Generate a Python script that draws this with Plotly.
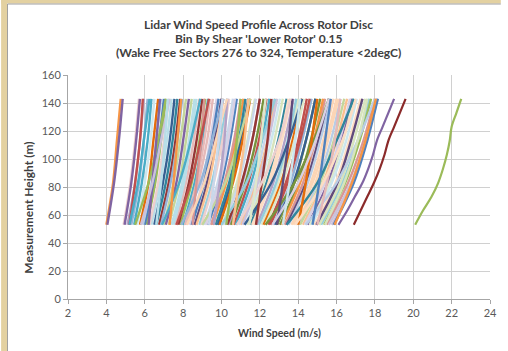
import plotly.graph_objects as go

# Lidar measurement heights (m) for the bulk of the binned profiles
heights = [53, 83, 113, 143]

# Wind speed (m/s) of each profile at each of the heights above
speed_53 = [9.3, 12.45, 6.1, 14.5, 8.0, 4.0, 5.3, 13.3, 7.25, 10.4,
            15.2, 11.0, 9.8, 6.75, 12.9, 8.6, 11.5, 5.75, 14.0, 7.6,
            10.05, 15.75, 6.35, 13.65, 9.1, 4.9, 12.1, 8.35, 11.25, 14.85,
            6.0, 10.65, 7.85, 4.05, 5.45, 9.55, 12.7, 15.5, 7.0, 11.85,
            8.85, 14.25, 6.5, 10.3, 13.05, 13.4, 9.7, 12.2, 5.9, 8.2,
            15.1, 11.1, 7.4, 13.9, 10.15, 6.25, 14.6, 9.2, 5.6, 11.6,
            8.45, 12.55, 15.35, 7.1, 10.75, 13.15, 6.85, 9.45, 14.1, 5.1,
            11.95, 8.7, 12.8, 7.75, 10.5, 14.95, 6.6, 9.9, 13.5, 8.1,
            11.35, 15.6, 7.5, 13.75, 10.9, 8.95, 12.3, 14.35, 14.7, 11.7, 15.85,
            5.2, 5.5, 6.2, 6.9, 7.3, 7.9, 8.5, 9.0, 9.6, 10.0,
            10.6, 11.2, 11.8, 12.3, 12.9, 13.4, 14.0, 14.4, 15.0, 15.4,
            5.8, 6.6, 8.2, 9.35, 10.8, 11.45, 12.65, 13.2, 13.85, 14.75,
            7.65, 10.25, 4.95, 5.2, 15.9]
speed_83 = [10.0, 13.35, 6.55, 15.55, 8.6, 4.35, 5.7, 14.25, 7.8, 11.1,
            16.3, 11.8, 10.5, 7.25, 13.8, 9.25, 12.35, 6.2, 15.0, 8.15,
            10.8, 16.85, 6.8, 14.65, 9.8, 5.25, 12.95, 9.0, 12.05, 15.95,
            6.45, 11.4, 8.45, 4.4, 5.85, 10.25, 13.6, 16.6, 7.5, 12.7,
            9.5, 15.3, 6.95, 11.05, 14.0, 14.4, 10.4, 13.1, 6.35, 8.8,
            16.2, 11.9, 7.95, 14.9, 10.9, 6.7, 15.65, 9.9, 6.0, 12.45,
            9.1, 13.45, 16.45, 7.65, 11.55, 14.1, 7.35, 10.15, 15.15, 5.5,
            12.85, 9.35, 13.75, 8.3, 11.25, 16.05, 7.1, 10.6, 14.5, 8.7,
            12.2, 16.75, 8.05, 14.75, 11.7, 9.6, 13.2, 15.4, 15.75, 12.55, 16.9,
            5.5, 6.2, 6.4, 7.8, 7.5, 8.9, 8.7, 10.2, 9.9, 11.3,
            10.9, 12.6, 12.1, 13.8, 13.2, 15.0, 14.4, 16.0, 15.5, 16.4,
            6.4, 6.85, 9.1, 9.6, 12.1, 11.8, 14.0, 13.55, 15.3, 15.1,
            8.4, 10.55, 5.3, 5.65, 16.8]
speed_113 = [10.45, 14.0, 6.85, 16.25, 9.0, 4.55, 5.95, 14.9, 8.15, 11.6,
             17.1, 12.4, 11.0, 7.6, 14.4, 9.65, 12.95, 6.45, 15.7, 8.55,
             11.35, 17.55, 7.15, 15.3, 10.25, 5.5, 13.55, 9.4, 12.6, 16.65,
             6.75, 11.95, 8.85, 4.65, 6.15, 10.75, 14.2, 17.4, 7.85, 13.3,
             9.95, 16.0, 7.3, 11.6, 14.65, 15.05, 10.9, 13.7, 6.6, 9.25,
             16.9, 12.45, 8.3, 15.55, 11.4, 7.0, 16.35, 10.35, 6.3, 13.05,
             9.5, 14.1, 17.2, 8.0, 12.1, 14.8, 7.7, 10.65, 15.85, 5.75,
             13.45, 9.75, 14.4, 8.7, 11.8, 16.75, 7.45, 11.1, 15.15, 9.1,
             12.75, 17.5, 8.4, 15.45, 12.25, 10.05, 13.8, 16.15, 16.5, 13.15, 17.6,
             5.75, 6.7, 6.6, 8.4, 7.7, 9.5, 8.95, 10.9, 10.15, 12.1,
             11.2, 13.5, 12.4, 14.8, 13.5, 16.0, 14.7, 17.1, 15.9, 17.1,
             6.85, 7.05, 9.7, 9.85, 13.0, 12.05, 14.9, 13.85, 16.3, 15.4,
             8.9, 10.8, 5.55, 5.95, 17.5]
speed_143 = [10.8, 14.45, 7.1, 16.8, 9.3, 4.75, 6.15, 15.4, 8.45, 12.0,
             17.7, 12.8, 11.4, 7.85, 14.9, 10.0, 13.4, 6.7, 16.2, 8.85,
             11.75, 18.15, 7.4, 15.85, 10.6, 5.7, 14.0, 9.75, 13.05, 17.25,
             7.0, 12.35, 9.15, 4.85, 6.35, 11.15, 14.7, 18.0, 8.15, 13.75,
             10.3, 16.55, 7.55, 12.0, 15.15, 15.6, 11.25, 14.2, 6.85, 9.55,
             17.5, 12.9, 8.6, 16.1, 11.8, 7.25, 16.9, 10.7, 6.5, 13.5,
             9.85, 14.6, 17.8, 8.3, 12.5, 15.3, 7.95, 11.0, 16.4, 5.95,
             13.9, 10.1, 14.9, 9.0, 12.2, 17.35, 7.7, 11.5, 15.7, 9.4,
             13.2, 18.1, 8.7, 16.0, 12.7, 10.4, 14.3, 16.7, 17.05, 13.6, 18.15,
             5.9, 7.1, 6.8, 8.9, 7.9, 10.1, 9.1, 11.5, 10.3, 12.8,
             11.4, 14.2, 12.6, 15.6, 13.7, 16.9, 15.0, 18.0, 16.2, 17.6,
             7.3, 7.2, 10.3, 10.05, 13.6, 12.3, 15.6, 14.1, 17.0, 15.7,
             9.35, 11.0, 5.75, 6.25, 18.05]

# The three highest-speed profiles, sampled at every lidar level
heights_full = [53, 63, 73, 83, 93, 103, 113, 123, 133, 143]
profile_purple = [16.1, 16.55, 16.95, 17.35, 17.65, 17.9, 18.1, 18.4, 18.7, 19.0]
profile_maroon = [16.9, 17.25, 17.6, 17.95, 18.25, 18.5, 18.7, 19.0, 19.3, 19.6]
profile_green = [20.1, 20.5, 20.95, 21.3, 21.55, 21.75, 21.9, 22.0, 22.25, 22.5]

x_ticks = [2, 4, 6, 8, 10, 12, 14, 16, 18, 20, 22, 24]
y_ticks = [0, 20, 40, 60, 80, 100, 120, 140, 160]

# Office-style series colours: accents, then darker / lighter shades
palette = [
    "#4F81BD", "#C0504D", "#9BBB59", "#8064A2", "#4BACC6", "#F79646",
    "#95B3D7", "#D99694", "#C3D69B", "#B3A2C7", "#93CDDD", "#FAC090",
    "#376092", "#953735", "#77933C", "#604A7B", "#31859C", "#E46C0A",
    "#B9CDE5", "#E6B9B8", "#D7E4BD", "#CCC1DA", "#B7DEE8", "#FCD5B5",
    "#C9D7EA", "#EDCFCE", "#DEE8CB", "#D8D0E4", "#CBE6EE", "#FDDDC4",
]

W, H = 508, 351
ML, MR, MT, MB = 68, 11, 75, 52
PW, PH = W - ML - MR, H - MT - MB


def px_x(p):
    return (p - ML) / PW


def px_y(p):
    return (H - MB - p) / PH


fig = go.Figure()

for i, prof in enumerate(zip(speed_53, speed_83, speed_113, speed_143)):
    fig.add_trace(go.Scatter(
        x=list(prof), y=heights, mode="lines",
        line=dict(color=palette[i % len(palette)], width=2.4, shape="spline"),
        hoverinfo="skip", showlegend=False,
    ))

for prof, col in [(profile_purple, "#8064A2"), (profile_maroon, "#8B2A2A"),
                  (profile_green, "#9BBB59")]:
    fig.add_trace(go.Scatter(
        x=prof, y=heights_full, mode="lines",
        line=dict(color=col, width=2.2, shape="spline"),
        hoverinfo="skip", showlegend=False,
    ))

grid = "#D0D0D0"
axis = "#A6A6A6"
tick_font = dict(family="Lato, Open Sans, sans-serif", size=11, color="#595959")

fig.update_xaxes(
    range=[2, 24], tickvals=x_ticks, ticktext=[str(v) for v in x_ticks],
    showgrid=True, gridcolor=grid, gridwidth=1,
    showline=True, linecolor=axis, linewidth=1,
    ticks="outside", ticklen=4, tickcolor=axis,
    zeroline=False, tickfont=tick_font, mirror=False,
)
fig.update_yaxes(
    range=[0, 160], tickvals=y_ticks, ticktext=[str(v) for v in y_ticks],
    showgrid=True, gridcolor=grid, gridwidth=1,
    showline=True, linecolor=axis, linewidth=1,
    ticks="outside", ticklen=4, tickcolor=axis,
    zeroline=False, tickfont=tick_font,
)

title_font = dict(family="Lato, Open Sans, sans-serif", size=12, color="#404040")
title_lines = [
    "<b>Lidar Wind Speed Profile Across Rotor Disc</b>",
    "<b>Bin By Shear 'Lower Rotor' 0.15</b>",
    "<b>(Wake Free Sectors 276 to 324, Temperature &lt;2degC)</b>",
]
annotations = []
for txt, yp in zip(title_lines, [24, 38.5, 53]):
    annotations.append(dict(
        text=txt, x=px_x(262), y=px_y(yp), xref="paper", yref="paper",
        xanchor="center", yanchor="middle", showarrow=False, font=title_font,
    ))
annotations.append(dict(
    text="<b>Wind Speed (m/s)</b>", x=px_x(283), y=px_y(333),
    xref="paper", yref="paper", xanchor="center", yanchor="middle",
    showarrow=False,
    font=dict(family="Lato, Open Sans, sans-serif", size=10.5, color="#404040"),
))
annotations.append(dict(
    text="<b>Measurement Height (m)</b>", x=px_x(27), y=px_y(208),
    xref="paper", yref="paper", xanchor="center", yanchor="middle",
    textangle=-90, showarrow=False,
    font=dict(family="Lato, Open Sans, sans-serif", size=12, color="#404040"),
))

beige = "#E3D1A1"
shapes = [
    # beige surround on the left and top edges
    dict(type="rect", xref="paper", yref="paper",
         x0=px_x(0), x1=px_x(6), y0=px_y(H), y1=px_y(0),
         fillcolor=beige, line=dict(width=0), layer="below"),
    dict(type="rect", xref="paper", yref="paper",
         x0=px_x(0), x1=px_x(W), y0=px_y(3.5), y1=px_y(0),
         fillcolor=beige, line=dict(width=0), layer="below"),
    # chart-area outline
    dict(type="line", xref="paper", yref="paper",
         x0=px_x(6.5), x1=px_x(6.5), y0=px_y(H), y1=px_y(4),
         line=dict(color="#A0A0A0", width=1)),
    dict(type="line", xref="paper", yref="paper",
         x0=px_x(6.5), x1=px_x(W), y0=px_y(4), y1=px_y(4),
         line=dict(color="#A0A0A0", width=1)),
]

fig.update_layout(
    width=W, height=H,
    margin=dict(l=ML, r=MR, t=MT, b=MB),
    paper_bgcolor="white", plot_bgcolor="white",
    annotations=annotations, shapes=shapes,
    hovermode=False, showlegend=False,
)

fig.write_html("out.html", config={"displayModeBar": False})
